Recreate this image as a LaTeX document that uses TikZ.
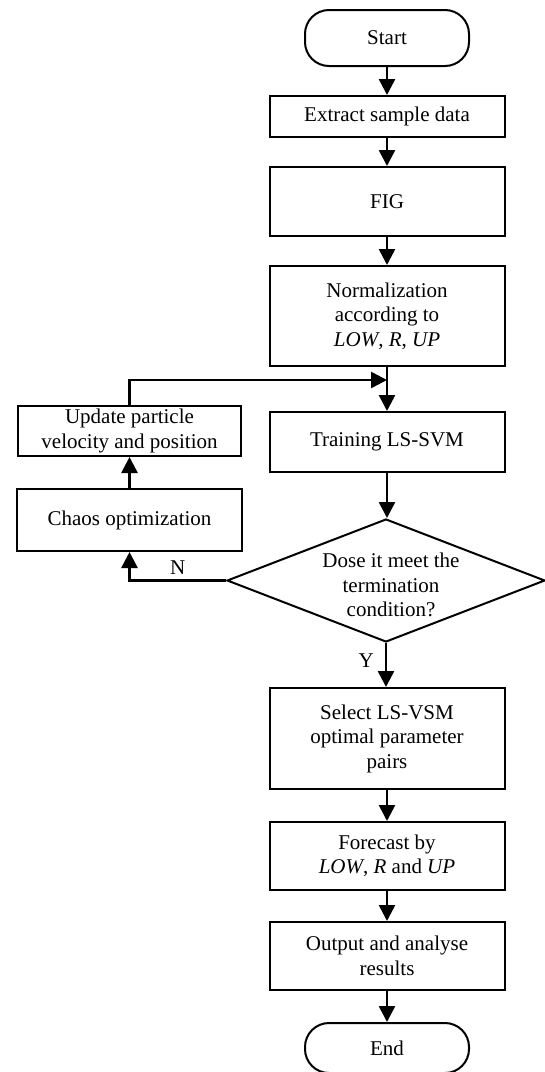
\documentclass[tikz,border=0pt]{standalone}
\usepackage{fontspec}
\setmainfont{Liberation Serif}
\usetikzlibrary{arrows.meta,shapes.geometric}
\begin{document}
\begin{tikzpicture}[x=1bp,y=-1bp,
  every node/.style={font=\fontsize{21bp}{24.5bp}\selectfont},
  box/.style={draw, line width=2bp, minimum width=235bp, align=center, inner sep=0pt},
  term/.style={draw, line width=2bp, rounded corners=24bp, minimum width=164bp, minimum height=56bp, inner sep=0pt},
  arr/.style={line width=2.6bp, -{Triangle[length=16bp,width=16bp]}},
  lbl/.style={inner sep=0pt}]
\useasboundingbox (0,0) rectangle (545,1072);
% main column
\node[term] (start) at (387,38) {Start};
\node[box, minimum height=41bp] (extract) at (387,116.5) {Extract sample data};
\node[box, minimum height=69bp] (fig) at (387,201.5) {FIG};
\node[box, minimum height=100bp] (norm) at (387,316) {Normalization\\according to\\\textit{LOW}, \textit{R}, \textit{UP}};
\node[box, minimum height=60bp] (train) at (387,442) {Training LS-SVM};
\node[diamond, draw, line width=2bp, aspect=2.6, minimum width=318bp, minimum height=123bp, inner sep=0pt] (dec) at (386,580.5) {};
\node[align=center, inner sep=0pt] (dectext) at (391,585) {Dose it meet the\\termination\\condition?};
\node[box, minimum height=101bp] (select) at (387,738.5) {Select LS-VSM\\optimal parameter\\pairs};
\node[box, minimum height=68bp] (fore) at (387,856) {Forecast by\\\textit{LOW}, \textit{R} and \textit{UP}};
\node[box, minimum height=68bp] (out) at (387,956) {Output and analyse\\results};
\node[term, minimum height=50bp] (end) at (387,1048) {End};
% loop column
\node[box, minimum width=223bp, minimum height=50bp] (update) at (129.5,431) {Update particle\\velocity and position};
\node[box, minimum width=225bp, minimum height=62bp] (chaos) at (129.5,520) {Chaos optimization};
\coordinate (merge) at (387,380);
% connectors
\draw[arr] (start) -- (extract);
\draw[arr] (extract) -- (fig);
\draw[arr] (fig) -- (norm);
\draw[arr] (norm) -- (train);
\draw[arr] (update.north) |- (merge);
\draw[arr] (train) -- (train.south |- dec.north);
\draw[arr] (chaos) -- (update);
\draw[arr] (dec.west) -| node[lbl, pos=0.25, above=5bp] (nlbl) {N} (chaos.south);
\draw[arr] (dec.south) -- node[lbl, pos=0.4, left=11bp] (ylbl) {Y} (dec.south |- select.north);
\draw[arr] (select) -- (fore);
\draw[arr] (fore) -- (out);
\draw[arr] (out) -- (end);
\end{tikzpicture}
\end{document}
